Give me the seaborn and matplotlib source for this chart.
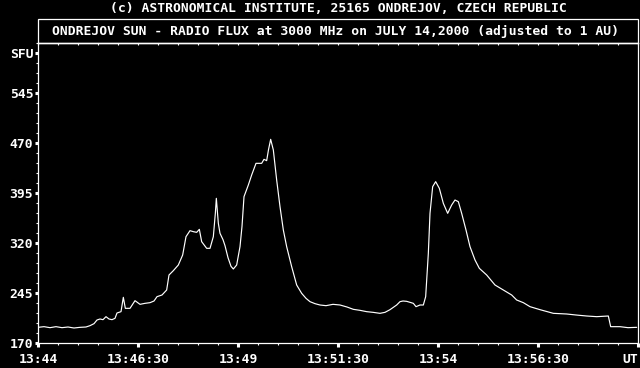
import numpy as np
import pandas as pd
import matplotlib
matplotlib.use("Agg")
import matplotlib.pyplot as plt
from matplotlib.patches import Rectangle
import seaborn as sns

# time in seconds after 13:44 UT
times = [0, 9, 18, 27, 36, 45, 54, 63, 72, 78, 84, 88.5, 93, 97.5, 102, 106.5, 111, 115.5,
         118.5, 124.5, 128, 131, 138, 145.5, 153, 160.5, 168, 174, 178.5, 186, 193, 196.5,
         203, 210.5, 217, 222, 228, 233, 238, 242, 245.5, 253, 258, 263, 266, 267.5, 270.5,
         273, 277.5, 280.5, 285, 289.5, 293, 298, 303, 306, 309, 313, 315.5, 320.5, 327,
         335.5, 339, 343, 345.75, 349, 353, 358, 363, 368, 373, 380.5, 388, 395.5, 402, 408,
         415.5, 423, 432, 442.5, 453, 463.5, 473, 483, 493, 502.5, 513, 520.5, 528, 538, 543,
         547.5, 553, 558, 563, 567, 573, 578, 581.5, 585.5, 588, 592, 596.5, 602, 608, 614.5,
         620.5, 625.5, 630.5, 635.5, 642, 648, 655.5, 662, 673, 685.5, 698, 710.5, 718, 728,
         738, 753, 773, 793, 807, 823, 838, 847.5, 855.5, 859, 873, 885, 898]
flux = [193.5, 194.5, 193, 194.5, 193, 194, 192.5, 193.5, 194, 196, 199, 204.5, 206, 205,
        209.5, 206, 205, 207, 215, 217, 238.5, 222, 222, 233.5, 228, 229.5, 230.5, 233,
        239.5, 242, 249.5, 272, 278.5, 287, 302, 329.5, 338.5, 337, 336, 340.5, 322, 312,
        312, 329.5, 364.5, 387, 349.5, 334.5, 325, 316, 298, 285, 281, 287, 314.5, 345,
        389.5, 400.5, 407, 422, 439.5, 439.5, 445.5, 443.5, 460, 475.5, 459.5, 414.5, 374.5,
        339.5, 314.5, 284.5, 257, 244.5, 237, 232, 229, 227, 226, 228, 227, 224, 220.5, 219,
        217, 216, 214.5, 216, 220, 227, 232, 233, 232.5, 231, 229.5, 224.5, 227, 227, 239.5,
        304.5, 364.5, 404.5, 412, 402, 379.5, 364.5, 377, 384.5, 382, 364.5, 339.5, 314.5,
        294.5, 282, 272, 257, 249.5, 242, 234.5, 230.5, 224.5, 220, 214.5, 213.5, 212, 210.5,
        209.5, 210, 210.5, 194.5, 194.5, 193, 193.5]

x_tick_pos = [0, 150, 300, 450, 600, 750, 900]
x_tick_labels = ["13:44", "13:46:30", "13:49", "13:51:30", "13:54", "13:56:30", "UT"]
y_tick_pos = [170, 245, 320, 395, 470, 545, 605]
y_tick_labels = ["170", "245", "320", "395", "470", "545", "SFU"]

title_top = "(c) ASTRONOMICAL INSTITUTE, 25165 ONDREJOV, CZECH REPUBLIC"
title_box = "ONDREJOV SUN - RADIO FLUX at 3000 MHz on JULY 14,2000 (adjusted to 1 AU)"

df = pd.DataFrame({"t": times, "sfu": flux})

sns.set_theme(style="dark")
plt.rcParams["font.family"] = ["DejaVu Sans Mono"]
plt.rcParams["font.weight"] = "bold"

W, H = 640, 368
fig = plt.figure(figsize=(6.4, 3.68), dpi=100, facecolor="black")
ax = fig.add_axes([38 / W, (H - 343) / H, 600 / W, 300 / H])
ax.set_facecolor("black")

sns.lineplot(data=df, x="t", y="sfu", color="white", linewidth=0.85, ax=ax)

ax.set_xlim(0, 900)
ax.set_ylim(170, 620)
ax.grid(False)
ax.set_xlabel("")
ax.set_ylabel("")
for s in ax.spines.values():
    s.set_color("white")
    s.set_linewidth(0.9)
    s.set_visible(True)

fs = 9.4
ax.set_xticks(x_tick_pos)
ax.set_xticklabels(x_tick_labels, color="white", fontsize=fs, fontweight="bold")
ax.get_xticklabels()[-1].set_horizontalalignment("right")
ax.set_xticks(np.arange(0, 901, 30), minor=True)
ax.set_yticks(y_tick_pos)
ax.set_yticklabels(y_tick_labels, color="white", fontsize=fs, fontweight="bold")
ax.set_yticks(np.arange(170, 621, 15), minor=True)

ax.tick_params(axis="x", which="major", direction="out", length=3, width=2.2,
               color="white", pad=4, bottom=True)
ax.tick_params(axis="x", which="minor", direction="out", length=1.6, width=0.8,
               color="white", bottom=True)
ax.tick_params(axis="y", which="major", direction="out", length=2.2, width=2.2,
               color="white", pad=1.2, left=True)
ax.tick_params(axis="y", which="minor", direction="out", length=1.2, width=0.8,
               color="white", left=True)

sec = ax.secondary_xaxis("top")
sec.set_xticks(np.arange(0, 901, 30))
sec.set_xticklabels([])
sec.tick_params(direction="in", length=1.6, width=0.8, color="white")
sec.spines["top"].set_color("white")
sec.spines["top"].set_linewidth(0.9)

box = Rectangle((38 / W, (H - 43) / H), 600 / W, 24 / H, transform=fig.transFigure,
                fill=False, edgecolor="white", linewidth=0.9)
fig.add_artist(box)

fig.text(338 / W, 1 - 8 / H, title_top, color="white", fontsize=fs, fontweight="bold",
         ha="center", va="center")
fig.text(336 / W, 1 - 31 / H, title_box, color="white", fontsize=fs, fontweight="bold",
         ha="center", va="center")

fig.savefig("out.png", dpi=100, facecolor="black")
